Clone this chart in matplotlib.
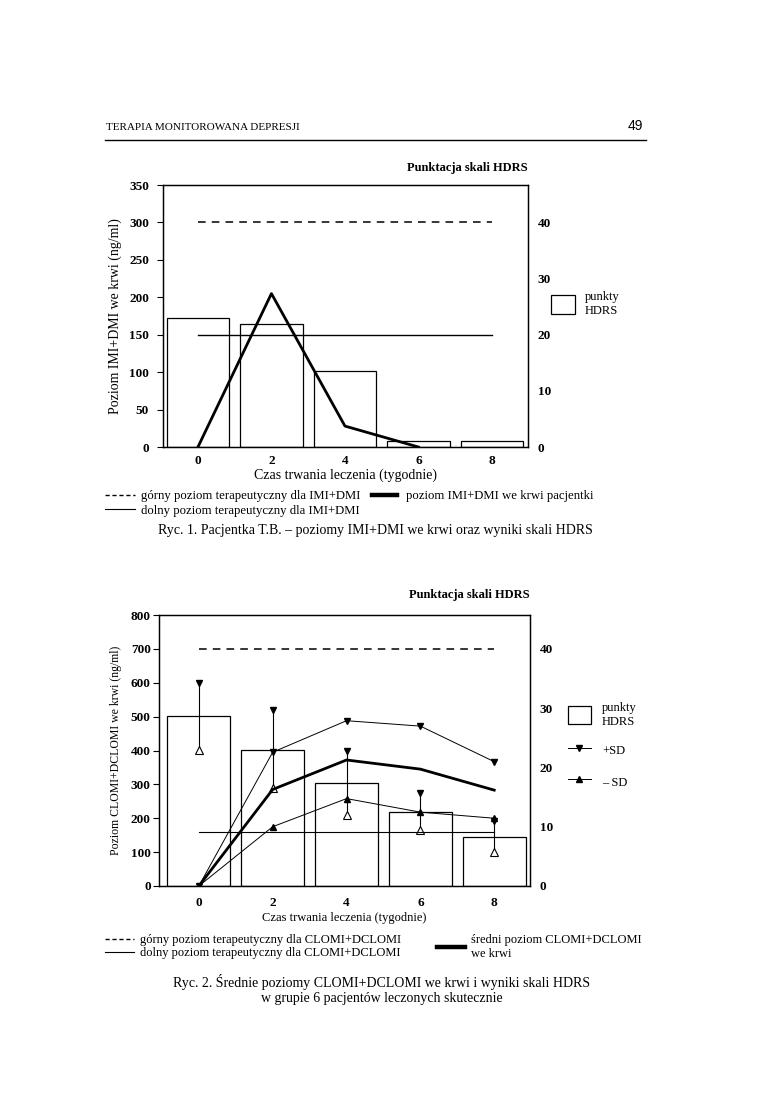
import numpy as np
import matplotlib
matplotlib.use('Agg')
import matplotlib.pyplot as plt
from matplotlib.patches import Patch
from matplotlib.lines import Line2D

plt.rcParams['font.family'] = ['Liberation Serif', 'DejaVu Serif']

weeks = [0, 2, 4, 6, 8]
ticks_x = [0, 2, 4, 6, 8]

# Ryc. 1 - pacjentka T.B.
imi_weeks = [0, 2, 4, 6]
imi_level = [0, 205, 28, 0]
hdrs1 = [23, 22, 13.5, 1, 1]
imi_upper = 300
imi_lower = 150

# Ryc. 2 - srednie w grupie 6 pacjentow
clomi_mean = [0, 285, 372, 345, 283]
clomi_plus_sd = [0, 395, 488, 472, 367]
clomi_minus_sd = [0, 175, 258, 218, 200]
hdrs2 = [28.6, 23.0, 17.3, 12.5, 8.3]
hdrs2_plus = [34.3, 29.7, 22.7, 15.7, 10.9]
hdrs2_minus = [22.9, 16.6, 12.0, 9.4, 5.7]
clomi_upper = 700
clomi_lower = 160

fig = plt.figure(figsize=(7.74, 10.93), dpi=100)

# naglowek strony
fig.text(0.137, 0.8829, "TERAPIA MONITOROWANA DEPRESJI", fontsize=8, va='center')
fig.text(0.831, 0.8845, "49", fontsize=10, va='center', ha='right', family='Liberation Sans')
fig.add_artist(Line2D([0.136, 0.834], [0.8719, 0.8719], color='black', lw=1.0))


def style_axes(ax, ax2, ymax, ystep, ratio, xlim, ypad, ylen, xpad):
    ax.set_xlim(*xlim)
    ax.set_ylim(0, ymax)
    ax2.set_ylim(0, ymax / ratio)
    ax.set_xticks(ticks_x)
    ax.set_yticks(np.arange(0, ymax + 1, ystep))
    ax2.set_yticks([0, 10, 20, 30, 40])
    ax.tick_params(axis='x', length=0, pad=xpad, labelsize=9.5)
    ax.tick_params(axis='y', length=ylen, pad=ypad, labelsize=9.5, width=0.8)
    ax2.tick_params(axis='y', length=0, pad=7, labelsize=9.5)
    for lab in ax.get_xticklabels() + ax.get_yticklabels() + ax2.get_yticklabels():
        lab.set_fontweight('bold')
    for a in (ax, ax2):
        for s in a.spines.values():
            s.set_linewidth(0.9)
    # linie nad slupkami HDRS
    ax.set_zorder(ax2.get_zorder() + 1)
    ax.patch.set_visible(False)


# ---------------- Ryc. 1 ----------------
ax = fig.add_axes([0.2106, 0.5910, 0.4716, 0.2397])
ax2 = ax.twinx()
ax2.bar(weeks, hdrs1, width=1.7, facecolor='white', edgecolor='black', lw=0.9)
ax.plot([0, 8], [imi_upper, imi_upper], color='black', ls=(0, (5, 4)), lw=1.1)
ax.plot([0, 8], [imi_lower, imi_lower], color='black', lw=1.0)
ax.plot(imi_weeks, imi_level, color='black', lw=2.0)
style_axes(ax, ax2, 350, 50, 7.5, (-0.95, 8.98), 6, 4, 6)
ax.set_xlabel("Czas trwania leczenia (tygodnie)", fontsize=10, labelpad=1)
ax.set_ylabel("Poziom IMI+DMI we krwi (ng/ml)", fontsize=10, labelpad=5)
ax.set_title("Punktacja skali HDRS", loc='right', fontsize=9, fontweight='bold', pad=10)

ax.legend(handles=[Patch(facecolor='white', edgecolor='black', lw=0.9)],
          labels=["punkty\nHDRS"], loc='center left', bbox_to_anchor=(0.712, 0.7218),
          bbox_transform=fig.transFigure, frameon=False, fontsize=9,
          handlelength=1.9, handleheight=1.9, handletextpad=0.8, borderaxespad=0, borderpad=0)

fig.legend(handles=[Line2D([], [], color='black', ls=(0, (3, 2)), lw=1.0),
                    Line2D([], [], color='black', lw=0.8)],
           labels=["górny poziom terapeutyczny dla IMI+DMI",
                   "dolny poziom terapeutyczny dla IMI+DMI"],
           loc='upper left', bbox_to_anchor=(0.136, 0.5515), frameon=False, fontsize=9.2,
           handlelength=2.3, handletextpad=0.5, labelspacing=0.2, borderpad=0, borderaxespad=0)
fig.legend(handles=[Line2D([], [], color='black', lw=3.2)],
           labels=["poziom IMI+DMI we krwi pacjentki"],
           loc='upper left', bbox_to_anchor=(0.48, 0.5515), frameon=False, fontsize=9.2,
           handlelength=2.0, handletextpad=0.7, borderpad=0, borderaxespad=0)
fig.text(0.485, 0.5142, "Ryc. 1. Pacjentka T.B. – poziomy IMI+DMI we krwi oraz wyniki skali HDRS",
         fontsize=10, ha='center', va='center')

# ---------------- Ryc. 2 ----------------
bx = fig.add_axes([0.2054, 0.1894, 0.4794, 0.2479])
bx2 = bx.twinx()
bx2.bar(weeks, hdrs2, width=1.7, facecolor='white', edgecolor='black', lw=0.9)
bx2.vlines(weeks, hdrs2_minus, hdrs2_plus, color='black', lw=0.8)
bx2.plot(weeks, hdrs2_plus, ls='none', marker='v', ms=5, color='black')
bx2.plot(weeks, hdrs2_minus, ls='none', marker='^', ms=5.5, mfc='white', mec='black', mew=0.8)
bx.plot([0, 8], [clomi_upper, clomi_upper], color='black', ls=(0, (5, 4)), lw=1.1)
bx.plot([0, 8], [clomi_lower, clomi_lower], color='black', lw=0.8)
bx.plot(weeks, clomi_plus_sd, color='black', lw=0.7, marker='v', ms=5)
bx.plot(weeks, clomi_minus_sd, color='black', lw=0.7, marker='^', ms=5)
bx.plot(weeks, clomi_mean, color='black', lw=2.0)
style_axes(bx, bx2, 800, 100, 17.5, (-1.08, 8.97), 2, 4, 8)
bx.set_xlabel("Czas trwania leczenia (tygodnie)", fontsize=9, labelpad=2)
bx.set_ylabel("Poziom CLOMI+DCLOMI we krwi (ng/ml)", fontsize=8.5, labelpad=6)
bx.set_title("Punktacja skali HDRS", loc='right', fontsize=9, fontweight='bold', pad=12)

bx.legend(handles=[Patch(facecolor='white', edgecolor='black', lw=0.9),
                   Line2D([], [], color='black', lw=0.7, marker='v', ms=5),
                   Line2D([], [], color='black', lw=0.7, marker='^', ms=5)],
          labels=["punkty\nHDRS", "+SD", "– SD"], loc='upper left',
          bbox_to_anchor=(0.734, 0.358), bbox_transform=fig.transFigure, frameon=False,
          fontsize=9, handlelength=1.8, handleheight=1.8, handletextpad=0.9,
          labelspacing=1.1, borderaxespad=0, borderpad=0)

fig.legend(handles=[Line2D([], [], color='black', ls=(0, (3, 2)), lw=1.0),
                    Line2D([], [], color='black', lw=0.8)],
           labels=["górny poziom terapeutyczny dla CLOMI+DCLOMI",
                   "dolny poziom terapeutyczny dla CLOMI+DCLOMI"],
           loc='upper left', bbox_to_anchor=(0.136, 0.1455), frameon=False, fontsize=9,
           handlelength=2.3, handletextpad=0.5, labelspacing=0.1, borderpad=0, borderaxespad=0)
fig.legend(handles=[Line2D([], [], color='black', lw=3.2)],
           labels=["średni poziom CLOMI+DCLOMI\nwe krwi"],
           loc='upper left', bbox_to_anchor=(0.565, 0.1455), frameon=False, fontsize=9,
           handlelength=2.2, handletextpad=0.5, borderpad=0, borderaxespad=0)
fig.text(0.493, 0.1015, "Ryc. 2. Średnie poziomy CLOMI+DCLOMI we krwi i wyniki skali HDRS",
         fontsize=10, ha='center', va='center')
fig.text(0.493, 0.0867, "w grupie 6 pacjentów leczonych skutecznie",
         fontsize=10, ha='center', va='center')

fig.savefig('out.png', dpi=100)
